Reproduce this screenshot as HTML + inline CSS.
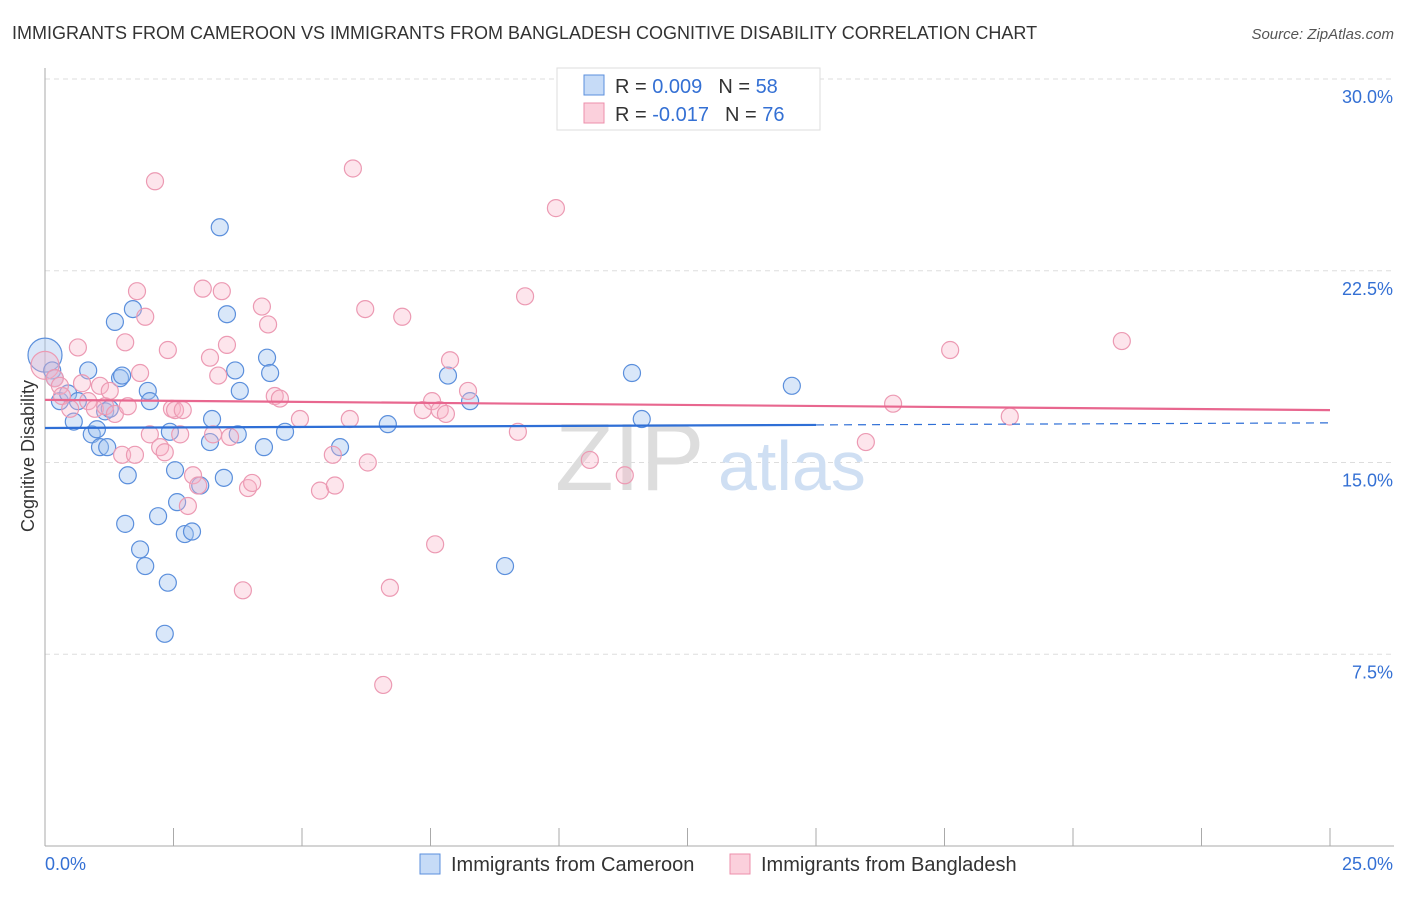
<!DOCTYPE html>
<html><head><meta charset="utf-8"><style>
body{margin:0;background:#fff;font-family:"Liberation Sans",sans-serif}
svg text{font-family:"Liberation Sans",sans-serif}
</style></head><body>
<svg id="chart" width="1406" height="892">
<text x="12" y="39" font-size="18" fill="#333">IMMIGRANTS FROM CAMEROON VS IMMIGRANTS FROM BANGLADESH COGNITIVE DISABILITY CORRELATION CHART</text>
<text x="1394" y="39" font-size="15" fill="#555" text-anchor="end" font-style="italic">Source: ZipAtlas.com</text>
<g id="grid"></g>
<text x="555" y="490" font-size="96" fill="#ddd" font-family="Liberation Serif">ZIP</text>
<text x="718" y="490" font-size="70" fill="#cfdff3">atlas</text>
<text transform="translate(34,456) rotate(-90)" font-size="18" fill="#333" text-anchor="middle">Cognitive Disability</text>
<g id="pts"></g>
<g id="lines"></g>
<g>
<rect x="557" y="68" width="263" height="62" fill="#fff" stroke="#ddd"/>
<rect x="584" y="75" width="20" height="20" fill="#c6dbf7" stroke="#5b8fdc"/>
<rect x="584" y="103" width="20" height="20" fill="#fbd0dc" stroke="#ec8fab"/>
<text x="615" y="93" font-size="20" fill="#333">R = <tspan fill="#3470d4">0.009</tspan><tspan dx="16">N = </tspan><tspan fill="#3470d4">58</tspan></text>
<text x="615" y="121" font-size="20" fill="#333">R = <tspan fill="#3470d4">-0.017</tspan><tspan dx="16">N = </tspan><tspan fill="#3470d4">76</tspan></text>
</g>
<g>
<rect x="420" y="854" width="20" height="20" fill="#c6dbf7" stroke="#5b8fdc"/>
<text x="451" y="871" font-size="20" fill="#333">Immigrants from Cameroon</text>
<rect x="730" y="854" width="20" height="20" fill="#fbd0dc" stroke="#ec8fab"/>
<text x="761" y="871" font-size="20" fill="#333">Immigrants from Bangladesh</text>
</g>
</svg>
<script>
const blueX=[0,0.14,0.19,0.29,0.45,0.56,0.64,0.84,0.91,1.01,1.07,1.17,1.21,1.26,1.36,1.46,1.5,1.61,1.56,1.71,1.85,1.95,2.0,2.04,2.2,2.33,2.39,2.43,2.53,2.57,2.72,2.86,3.02,3.21,3.25,3.4,3.48,3.54,3.7,3.75,3.79,4.26,4.32,4.38,4.67,5.74,6.67,7.84,8.27,8.95,11.42,11.61,14.53];
const blueY=[19.2,18.6,18.3,17.4,17.7,16.6,17.4,18.6,16.1,16.3,15.6,17.0,15.6,17.1,20.5,18.3,18.4,14.5,12.6,21.0,11.6,10.95,17.8,17.4,12.9,8.3,10.3,16.2,14.7,13.45,12.2,12.3,14.1,15.8,16.7,24.2,14.4,20.8,18.6,16.1,17.8,15.6,19.1,18.5,16.2,15.6,16.5,18.4,17.4,10.95,18.5,16.7,18.0];
const pinkX=[0,0.19,0.29,0.33,0.49,0.64,0.72,0.84,0.97,1.07,1.17,1.26,1.36,1.5,1.56,1.61,1.75,1.79,1.85,1.95,2.04,2.14,2.24,2.33,2.39,2.47,2.53,2.63,2.68,2.78,2.88,2.98,3.07,3.21,3.27,3.37,3.44,3.54,3.6,3.85,3.95,4.03,4.22,4.34,4.47,4.57,4.96,5.35,5.6,5.64,5.93,5.99,6.23,6.28,6.58,6.71,6.95,7.35,7.53,7.59,7.68,7.8,7.88,8.23,9.2,9.34,9.94,10.6,11.28,15.97,16.5,17.61,18.77,20.95];
const pinkY=[18.8,18.3,18.0,17.6,17.1,19.5,18.1,17.4,17.1,18.0,17.2,17.8,16.9,15.3,19.7,17.2,15.3,21.7,18.5,20.7,16.1,26.0,15.6,15.4,19.4,17.1,17.05,16.1,17.05,13.3,14.5,14.1,21.8,19.1,16.1,18.4,21.7,19.6,16.0,10.0,14.0,14.2,21.1,20.4,17.6,17.5,16.7,13.9,15.3,14.1,16.7,26.5,21.0,15.0,6.3,10.1,20.7,17.05,17.4,11.8,17.05,16.9,19.0,17.8,16.2,21.5,24.95,15.1,14.5,15.8,17.3,19.4,16.8,19.75];
const blueTrend=[16.35,16.55];
const pinkTrend=[17.45,17.05];
const yTicks=[7.5,15,22.5,30];
const xTickLabels=["0.0%","25.0%"];
const NS="http://www.w3.org/2000/svg";
const xs=v=>45+v/25*1285, ys=v=>846-v/30*767;
function mk(t,a,p){const e=document.createElementNS(NS,t);for(const k in a)e.setAttribute(k,a[k]);p.appendChild(e);return e;}
const grid=document.getElementById('grid');
yTicks.forEach(t=>{
 const l=mk('line',{x1:45,x2:1394,y1:ys(t),y2:ys(t),stroke:'#ddd','stroke-dasharray':'5,4'},grid);
 
 
 const tx=mk('text',{x:1393,y:ys(t)+24,'font-size':18,fill:'#3470d4','text-anchor':'end'},grid);
 tx.textContent=t.toFixed(1)+'%';
 
 
});
const ax=mk('line',{x1:45,x2:45,y1:68,y2:846,stroke:'#aaa'},grid);


const bx=mk('line',{x1:45,x2:1394,y1:846,y2:846,stroke:'#aaa'},grid);


for(let i=0;i<=10;i++){const x=xs(i*2.5);const tk=mk('line',{x1:x,x2:x,y1:828,y2:846,stroke:'#aaa'},grid);
 
 }
[[xTickLabels[0],45,'start'],[xTickLabels[1],1393,'end']].forEach(([s,x,a])=>{const t=mk('text',{x:x,y:870,'font-size':18,fill:'#3470d4','text-anchor':a},grid);t.textContent=s;
 
 });
const pts=document.getElementById('pts');
blueX.forEach((v,i)=>{const c=mk('circle',{cx:xs(v),cy:ys(blueY[i]),r:i==0?17:8.5,fill:'rgba(160,196,240,0.4)',stroke:'#5b8fdc','stroke-width':1.2},pts);
 
 });
pinkX.forEach((v,i)=>{const c=mk('circle',{cx:xs(v),cy:ys(pinkY[i]),r:i==0?14:8.5,fill:'rgba(248,180,200,0.35)',stroke:'#ec9ab3','stroke-width':1.2},pts);
 
 });
const L=document.getElementById('lines');
const by=v=>blueTrend[0]+(blueTrend[1]-blueTrend[0])*v/25;
const b1=mk('line',{x1:xs(0),y1:ys(by(0)),x2:xs(15),y2:ys(by(15)),stroke:'#2f6fd6','stroke-width':2.2},L);


const b2=mk('line',{x1:xs(15),y1:ys(by(15)),x2:xs(25),y2:ys(by(25)),stroke:'#2f6fd6','stroke-width':1.2,'stroke-dasharray':'8,6'},L);


const p1=mk('line',{x1:xs(0),y1:ys(pinkTrend[0]),x2:xs(25),y2:ys(pinkTrend[1]),stroke:'#e8678f','stroke-width':2.2},L);


</script>
</body></html>
